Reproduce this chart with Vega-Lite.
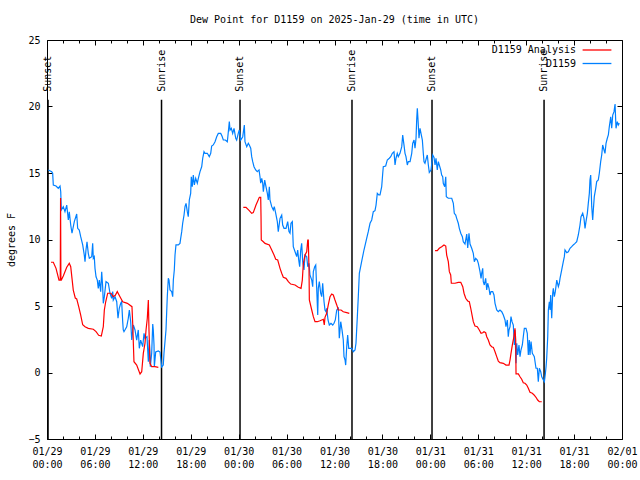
{
  "$schema": "https://vega.github.io/schema/vega-lite/v6.json",
  "width": 575,
  "height": 399,
  "autosize": "none",
  "padding": {"left": 47, "top": 40, "right": 18, "bottom": 41},
  "title": {"text": "Dew Point for D1159 on 2025-Jan-29 (time in UTC)", "font": "DejaVu Sans Mono", "fontSize": 10, "fontWeight": "normal", "color": "black", "offset": 10},
  "config": {
    "font": "DejaVu Sans Mono",
    "view": {"stroke": "black", "strokeWidth": 1},
    "axis": {"domain": false, "grid": false, "tickColor": "black", "labelColor": "black", "labelFont": "DejaVu Sans Mono", "labelFontSize": 10, "titleFont": "DejaVu Sans Mono", "titleFontSize": 10, "titleFontWeight": "normal", "titleColor": "black"}
  },
  "datasets": {
    "sun": [
      {"event": "Sunset", "h": 0.13},
      {"event": "Sunrise", "h": 14.34},
      {"event": "Sunset", "h": 24.17},
      {"event": "Sunrise", "h": 38.19},
      {"event": "Sunset", "h": 48.21},
      {"event": "Sunrise", "h": 62.24}
    ],
    "dew": [
      {"series":"D1159","seg":"b","h":0.16,"v":15.23},{"series":"D1159","seg":"b","h":0.59,"v":15.10},{"series":"D1159","seg":"b","h":0.71,"v":14.98},{"series":"D1159","seg":"b","h":0.79,"v":14.10},{"series":"D1159","seg":"b","h":1.13,"v":14.02},{"series":"D1159","seg":"b","h":1.41,"v":13.85},{"series":"D1159","seg":"b","h":1.63,"v":14.02},{"series":"D1159","seg":"b","h":1.72,"v":13.59},{"series":"D1159","seg":"b","h":1.79,"v":12.22},{"series":"D1159","seg":"b","h":2.04,"v":12.47},{"series":"D1159","seg":"b","h":2.25,"v":12.09},{"series":"D1159","seg":"b","h":2.47,"v":12.59},{"series":"D1159","seg":"b","h":2.67,"v":11.47},{"series":"D1159","seg":"b","h":2.79,"v":12.09},{"series":"D1159","seg":"b","h":2.97,"v":11.09},{"series":"D1159","seg":"b","h":3.13,"v":10.47},{"series":"D1159","seg":"b","h":3.42,"v":11.34},{"series":"D1159","seg":"b","h":3.72,"v":11.92},{"series":"D1159","seg":"b","h":3.84,"v":10.84},{"series":"D1159","seg":"b","h":4.04,"v":10.71},{"series":"D1159","seg":"b","h":4.22,"v":10.21},{"series":"D1159","seg":"b","h":4.47,"v":9.59},{"series":"D1159","seg":"b","h":4.67,"v":8.83},{"series":"D1159","seg":"b","h":4.76,"v":8.33},{"series":"D1159","seg":"b","h":4.88,"v":9.21},{"series":"D1159","seg":"b","h":5.01,"v":9.83},{"series":"D1159","seg":"b","h":5.17,"v":8.96},{"series":"D1159","seg":"b","h":5.30,"v":8.59},{"series":"D1159","seg":"b","h":5.60,"v":8.71},{"series":"D1159","seg":"b","h":5.72,"v":9.71},{"series":"D1159","seg":"b","h":5.80,"v":8.59},{"series":"D1159","seg":"b","h":5.92,"v":8.71},{"series":"D1159","seg":"b","h":6.01,"v":7.83},{"series":"D1159","seg":"b","h":6.14,"v":7.20},{"series":"D1159","seg":"b","h":6.30,"v":6.95},{"series":"D1159","seg":"b","h":6.42,"v":6.33},{"series":"D1159","seg":"b","h":6.55,"v":6.95},{"series":"D1159","seg":"b","h":6.72,"v":6.08},{"series":"D1159","seg":"b","h":6.85,"v":7.58},{"series":"D1159","seg":"b","h":6.97,"v":6.45},{"series":"D1159","seg":"b","h":7.05,"v":5.20},{"series":"D1159","seg":"b","h":7.18,"v":5.70},{"series":"D1159","seg":"b","h":7.39,"v":6.83},{"series":"D1159","seg":"b","h":7.68,"v":6.71},{"series":"D1159","seg":"b","h":7.89,"v":5.96},{"series":"D1159","seg":"b","h":8.10,"v":5.58},{"series":"D1159","seg":"b","h":8.23,"v":6.08},{"series":"D1159","seg":"b","h":8.30,"v":5.45},{"series":"D1159","seg":"b","h":8.52,"v":5.70},{"series":"D1159","seg":"b","h":8.73,"v":5.32},{"series":"D1159","seg":"b","h":8.89,"v":4.08},{"series":"D1159","seg":"b","h":9.05,"v":4.83},{"series":"D1159","seg":"b","h":9.23,"v":5.20},{"series":"D1159","seg":"b","h":9.35,"v":5.32},{"series":"D1159","seg":"b","h":9.48,"v":3.82},{"series":"D1159","seg":"b","h":9.55,"v":3.20},{"series":"D1159","seg":"b","h":9.64,"v":3.07},{"series":"D1159","seg":"b","h":9.98,"v":3.44},{"series":"D1159","seg":"b","h":10.18,"v":4.08},{"series":"D1159","seg":"b","h":10.31,"v":4.70},{"series":"D1159","seg":"b","h":10.48,"v":3.82},{"series":"D1159","seg":"b","h":10.61,"v":2.44},{"series":"D1159","seg":"b","h":10.81,"v":3.57},{"series":"D1159","seg":"b","h":11.02,"v":3.20},{"series":"D1159","seg":"b","h":11.23,"v":2.44},{"series":"D1159","seg":"b","h":11.43,"v":3.20},{"series":"D1159","seg":"b","h":11.56,"v":1.82},{"series":"D1159","seg":"b","h":11.73,"v":2.44},{"series":"D1159","seg":"b","h":11.98,"v":1.94},{"series":"D1159","seg":"b","h":12.15,"v":2.95},{"series":"D1159","seg":"b","h":12.27,"v":2.57},{"series":"D1159","seg":"b","h":12.52,"v":2.69},{"series":"D1159","seg":"b","h":12.69,"v":0.81},{"series":"D1159","seg":"b","h":12.81,"v":2.44},{"series":"D1159","seg":"b","h":12.94,"v":0.44},{"series":"D1159","seg":"b","h":13.11,"v":1.47},{"series":"D1159","seg":"b","h":13.24,"v":3.65},{"series":"D1159","seg":"b","h":13.31,"v":3.20},{"series":"D1159","seg":"b","h":13.40,"v":2.07},{"series":"D1159","seg":"b","h":13.44,"v":0.44},{"series":"D1159","seg":"b","h":13.61,"v":1.54},{"series":"D1159","seg":"b","h":13.94,"v":1.62},{"series":"D1159","seg":"b","h":14.15,"v":1.54},{"series":"D1159","seg":"b","h":14.36,"v":0.41},{"series":"D1159","seg":"b","h":14.56,"v":0.56},{"series":"D1159","seg":"b","h":14.65,"v":1.47},{"series":"D1159","seg":"b","h":14.90,"v":3.20},{"series":"D1159","seg":"b","h":15.06,"v":5.68},{"series":"D1159","seg":"b","h":15.19,"v":7.08},{"series":"D1159","seg":"b","h":15.28,"v":6.95},{"series":"D1159","seg":"b","h":15.40,"v":6.20},{"series":"D1159","seg":"b","h":15.61,"v":6.08},{"series":"D1159","seg":"b","h":15.74,"v":5.70},{"series":"D1159","seg":"b","h":15.82,"v":6.95},{"series":"D1159","seg":"b","h":15.94,"v":7.71},{"series":"D1159","seg":"b","h":16.03,"v":8.83},{"series":"D1159","seg":"b","h":16.15,"v":9.59},{"series":"D1159","seg":"b","h":16.44,"v":9.59},{"series":"D1159","seg":"b","h":16.65,"v":9.71},{"series":"D1159","seg":"b","h":16.74,"v":10.09},{"series":"D1159","seg":"b","h":16.87,"v":10.59},{"series":"D1159","seg":"b","h":16.99,"v":11.22},{"series":"D1159","seg":"b","h":17.16,"v":11.84},{"series":"D1159","seg":"b","h":17.28,"v":12.47},{"series":"D1159","seg":"b","h":17.41,"v":12.72},{"series":"D1159","seg":"b","h":17.57,"v":12.09},{"series":"D1159","seg":"b","h":17.69,"v":11.71},{"series":"D1159","seg":"b","h":17.82,"v":12.97},{"series":"D1159","seg":"b","h":17.99,"v":13.47},{"series":"D1159","seg":"b","h":18.07,"v":14.72},{"series":"D1159","seg":"b","h":18.19,"v":13.97},{"series":"D1159","seg":"b","h":18.32,"v":14.85},{"series":"D1159","seg":"b","h":18.45,"v":14.10},{"series":"D1159","seg":"b","h":18.62,"v":14.60},{"series":"D1159","seg":"b","h":18.82,"v":14.23},{"series":"D1159","seg":"b","h":18.95,"v":14.60},{"series":"D1159","seg":"b","h":19.16,"v":15.10},{"series":"D1159","seg":"b","h":19.37,"v":15.47},{"series":"D1159","seg":"b","h":19.50,"v":16.11},{"series":"D1159","seg":"b","h":19.66,"v":16.60},{"series":"D1159","seg":"b","h":19.78,"v":16.48},{"series":"D1159","seg":"b","h":20.07,"v":16.48},{"series":"D1159","seg":"b","h":20.32,"v":16.23},{"series":"D1159","seg":"b","h":20.50,"v":16.48},{"series":"D1159","seg":"b","h":20.62,"v":17.03},{"series":"D1159","seg":"b","h":20.82,"v":17.11},{"series":"D1159","seg":"b","h":21.04,"v":17.35},{"series":"D1159","seg":"b","h":21.25,"v":17.73},{"series":"D1159","seg":"b","h":21.45,"v":17.98},{"series":"D1159","seg":"b","h":21.75,"v":17.98},{"series":"D1159","seg":"b","h":21.91,"v":17.78},{"series":"D1159","seg":"b","h":22.08,"v":17.48},{"series":"D1159","seg":"b","h":22.33,"v":17.48},{"series":"D1159","seg":"b","h":22.58,"v":17.35},{"series":"D1159","seg":"b","h":22.75,"v":18.36},{"series":"D1159","seg":"b","h":22.83,"v":18.86},{"series":"D1159","seg":"b","h":22.92,"v":18.23},{"series":"D1159","seg":"b","h":23.08,"v":18.36},{"series":"D1159","seg":"b","h":23.25,"v":17.98},{"series":"D1159","seg":"b","h":23.42,"v":18.36},{"series":"D1159","seg":"b","h":23.63,"v":17.61},{"series":"D1159","seg":"b","h":23.75,"v":17.48},{"series":"D1159","seg":"b","h":23.95,"v":17.98},{"series":"D1159","seg":"b","h":24.08,"v":18.23},{"series":"D1159","seg":"b","h":24.26,"v":17.48},{"series":"D1159","seg":"b","h":24.51,"v":17.73},{"series":"D1159","seg":"b","h":24.71,"v":18.61},{"series":"D1159","seg":"b","h":24.79,"v":17.35},{"series":"D1159","seg":"b","h":25.01,"v":16.98},{"series":"D1159","seg":"b","h":25.21,"v":17.23},{"series":"D1159","seg":"b","h":25.33,"v":17.11},{"series":"D1159","seg":"b","h":25.51,"v":16.86},{"series":"D1159","seg":"b","h":25.63,"v":16.23},{"series":"D1159","seg":"b","h":25.76,"v":15.85},{"series":"D1159","seg":"b","h":25.92,"v":15.47},{"series":"D1159","seg":"b","h":26.13,"v":15.23},{"series":"D1159","seg":"b","h":26.33,"v":15.10},{"series":"D1159","seg":"b","h":26.55,"v":15.23},{"series":"D1159","seg":"b","h":26.67,"v":14.72},{"series":"D1159","seg":"b","h":26.76,"v":14.23},{"series":"D1159","seg":"b","h":26.89,"v":14.60},{"series":"D1159","seg":"b","h":27.01,"v":14.23},{"series":"D1159","seg":"b","h":27.09,"v":13.59},{"series":"D1159","seg":"b","h":27.26,"v":14.47},{"series":"D1159","seg":"b","h":27.42,"v":13.97},{"series":"D1159","seg":"b","h":27.59,"v":13.47},{"series":"D1159","seg":"b","h":27.71,"v":12.97},{"series":"D1159","seg":"b","h":27.84,"v":13.97},{"series":"D1159","seg":"b","h":27.92,"v":12.97},{"series":"D1159","seg":"b","h":28.14,"v":12.47},{"series":"D1159","seg":"b","h":28.34,"v":12.22},{"series":"D1159","seg":"b","h":28.46,"v":12.47},{"series":"D1159","seg":"b","h":28.64,"v":11.97},{"series":"D1159","seg":"b","h":28.84,"v":11.34},{"series":"D1159","seg":"b","h":28.96,"v":10.59},{"series":"D1159","seg":"b","h":29.18,"v":11.59},{"series":"D1159","seg":"b","h":29.39,"v":11.84},{"series":"D1159","seg":"b","h":29.51,"v":11.09},{"series":"D1159","seg":"b","h":29.68,"v":10.84},{"series":"D1159","seg":"b","h":29.93,"v":10.84},{"series":"D1159","seg":"b","h":30.14,"v":11.34},{"series":"D1159","seg":"b","h":30.30,"v":10.59},{"series":"D1159","seg":"b","h":30.43,"v":10.47},{"series":"D1159","seg":"b","h":30.55,"v":11.22},{"series":"D1159","seg":"b","h":30.72,"v":11.34},{"series":"D1159","seg":"b","h":30.84,"v":9.46},{"series":"D1159","seg":"b","h":31.06,"v":9.08},{"series":"D1159","seg":"b","h":31.27,"v":8.71},{"series":"D1159","seg":"b","h":31.39,"v":9.21},{"series":"D1159","seg":"b","h":31.52,"v":8.46},{"series":"D1159","seg":"b","h":31.64,"v":7.95},{"series":"D1159","seg":"b","h":31.77,"v":9.21},{"series":"D1159","seg":"b","h":31.89,"v":9.71},{"series":"D1159","seg":"b","h":32.02,"v":8.33},{"series":"D1159","seg":"b","h":32.18,"v":7.71},{"series":"D1159","seg":"b","h":32.31,"v":8.83},{"series":"D1159","seg":"b","h":32.52,"v":8.71},{"series":"D1159","seg":"b","h":32.65,"v":7.95},{"series":"D1159","seg":"b","h":32.81,"v":8.21},{"series":"D1159","seg":"b","h":32.93,"v":7.33},{"series":"D1159","seg":"b","h":33.15,"v":6.95},{"series":"D1159","seg":"b","h":33.27,"v":6.45},{"series":"D1159","seg":"b","h":33.35,"v":7.58},{"series":"D1159","seg":"b","h":33.52,"v":7.95},{"series":"D1159","seg":"b","h":33.65,"v":8.08},{"series":"D1159","seg":"b","h":33.77,"v":6.33},{"series":"D1159","seg":"b","h":33.90,"v":4.32},{"series":"D1159","seg":"b","h":33.97,"v":6.33},{"series":"D1159","seg":"b","h":34.10,"v":6.83},{"series":"D1159","seg":"b","h":34.27,"v":5.96},{"series":"D1159","seg":"b","h":34.40,"v":5.70},{"series":"D1159","seg":"b","h":34.52,"v":6.71},{"series":"D1159","seg":"b","h":34.69,"v":5.32},{"series":"D1159","seg":"b","h":34.81,"v":4.70},{"series":"D1159","seg":"b","h":34.94,"v":4.57},{"series":"D1159","seg":"b","h":35.02,"v":4.83},{"series":"D1159","seg":"b","h":35.19,"v":3.95},{"series":"D1159","seg":"b","h":35.35,"v":3.57},{"series":"D1159","seg":"b","h":35.56,"v":3.70},{"series":"D1159","seg":"b","h":35.78,"v":3.57},{"series":"D1159","seg":"b","h":35.94,"v":3.70},{"series":"D1159","seg":"b","h":36.10,"v":3.95},{"series":"D1159","seg":"b","h":36.28,"v":4.70},{"series":"D1159","seg":"b","h":36.48,"v":4.83},{"series":"D1159","seg":"b","h":36.60,"v":2.57},{"series":"D1159","seg":"b","h":36.78,"v":3.82},{"series":"D1159","seg":"b","h":36.94,"v":3.20},{"series":"D1159","seg":"b","h":37.10,"v":2.44},{"series":"D1159","seg":"b","h":37.19,"v":1.19},{"series":"D1159","seg":"b","h":37.32,"v":0.94},{"series":"D1159","seg":"b","h":37.40,"v":0.56},{"series":"D1159","seg":"b","h":37.53,"v":1.94},{"series":"D1159","seg":"b","h":37.65,"v":2.82},{"series":"D1159","seg":"b","h":37.78,"v":1.82},{"series":"D1159","seg":"b","h":38.03,"v":1.82},{"series":"D1159","seg":"b","h":38.16,"v":1.82},{"series":"D1159","seg":"b","h":38.36,"v":1.56},{"series":"D1159","seg":"b","h":38.57,"v":1.69},{"series":"D1159","seg":"b","h":38.69,"v":2.20},{"series":"D1159","seg":"b","h":38.86,"v":4.20},{"series":"D1159","seg":"b","h":38.98,"v":5.70},{"series":"D1159","seg":"b","h":39.11,"v":7.46},{"series":"D1159","seg":"b","h":39.44,"v":8.46},{"series":"D1159","seg":"b","h":39.69,"v":9.21},{"series":"D1159","seg":"b","h":40.03,"v":10.09},{"series":"D1159","seg":"b","h":40.23,"v":10.59},{"series":"D1159","seg":"b","h":40.45,"v":11.22},{"series":"D1159","seg":"b","h":40.66,"v":11.47},{"series":"D1159","seg":"b","h":40.86,"v":12.09},{"series":"D1159","seg":"b","h":41.07,"v":12.17},{"series":"D1159","seg":"b","h":41.20,"v":12.59},{"series":"D1159","seg":"b","h":41.36,"v":13.47},{"series":"D1159","seg":"b","h":41.54,"v":13.35},{"series":"D1159","seg":"b","h":41.70,"v":13.35},{"series":"D1159","seg":"b","h":41.91,"v":13.97},{"series":"D1159","seg":"b","h":42.04,"v":14.98},{"series":"D1159","seg":"b","h":42.11,"v":15.47},{"series":"D1159","seg":"b","h":42.41,"v":15.53},{"series":"D1159","seg":"b","h":42.61,"v":15.98},{"series":"D1159","seg":"b","h":42.86,"v":16.11},{"series":"D1159","seg":"b","h":43.04,"v":16.23},{"series":"D1159","seg":"b","h":43.24,"v":16.48},{"series":"D1159","seg":"b","h":43.45,"v":16.60},{"series":"D1159","seg":"b","h":43.58,"v":15.60},{"series":"D1159","seg":"b","h":43.70,"v":16.11},{"series":"D1159","seg":"b","h":43.86,"v":16.48},{"series":"D1159","seg":"b","h":43.99,"v":16.23},{"series":"D1159","seg":"b","h":44.20,"v":16.48},{"series":"D1159","seg":"b","h":44.42,"v":16.98},{"series":"D1159","seg":"b","h":44.54,"v":17.86},{"series":"D1159","seg":"b","h":44.70,"v":17.11},{"series":"D1159","seg":"b","h":44.83,"v":16.48},{"series":"D1159","seg":"b","h":44.95,"v":16.23},{"series":"D1159","seg":"b","h":45.12,"v":15.60},{"series":"D1159","seg":"b","h":45.24,"v":15.85},{"series":"D1159","seg":"b","h":45.46,"v":15.85},{"series":"D1159","seg":"b","h":45.67,"v":16.48},{"series":"D1159","seg":"b","h":45.79,"v":17.23},{"series":"D1159","seg":"b","h":45.96,"v":17.48},{"series":"D1159","seg":"b","h":46.08,"v":16.86},{"series":"D1159","seg":"b","h":46.21,"v":17.61},{"series":"D1159","seg":"b","h":46.29,"v":18.98},{"series":"D1159","seg":"b","h":46.37,"v":19.86},{"series":"D1159","seg":"b","h":46.46,"v":18.98},{"series":"D1159","seg":"b","h":46.58,"v":17.61},{"series":"D1159","seg":"b","h":46.71,"v":18.36},{"series":"D1159","seg":"b","h":46.83,"v":17.98},{"series":"D1159","seg":"b","h":47.00,"v":17.48},{"series":"D1159","seg":"b","h":47.12,"v":16.48},{"series":"D1159","seg":"b","h":47.21,"v":15.85},{"series":"D1159","seg":"b","h":47.33,"v":15.73},{"series":"D1159","seg":"b","h":47.50,"v":16.11},{"series":"D1159","seg":"b","h":47.62,"v":16.35},{"series":"D1159","seg":"b","h":47.75,"v":15.60},{"series":"D1159","seg":"b","h":47.87,"v":15.04},{"series":"D1159","seg":"b","h":48.09,"v":15.23},{"series":"D1159","seg":"b","h":48.30,"v":16.35},{"series":"D1159","seg":"b","h":48.46,"v":16.17},{"series":"D1159","seg":"b","h":48.59,"v":15.60},{"series":"D1159","seg":"b","h":48.71,"v":16.11},{"series":"D1159","seg":"b","h":48.87,"v":15.23},{"series":"D1159","seg":"b","h":49.00,"v":15.85},{"series":"D1159","seg":"b","h":49.12,"v":15.60},{"series":"D1159","seg":"b","h":49.30,"v":15.23},{"series":"D1159","seg":"b","h":49.42,"v":14.85},{"series":"D1159","seg":"b","h":49.55,"v":14.72},{"series":"D1159","seg":"b","h":49.62,"v":14.23},{"series":"D1159","seg":"b","h":49.80,"v":13.97},{"series":"D1159","seg":"b","h":49.93,"v":14.72},{"series":"D1159","seg":"b","h":50.00,"v":13.22},{"series":"D1159","seg":"b","h":50.25,"v":13.10},{"series":"D1159","seg":"b","h":50.68,"v":13.10},{"series":"D1159","seg":"b","h":50.88,"v":12.72},{"series":"D1159","seg":"b","h":51.00,"v":11.97},{"series":"D1159","seg":"b","h":51.18,"v":11.84},{"series":"D1159","seg":"b","h":51.30,"v":11.59},{"series":"D1159","seg":"b","h":51.50,"v":11.22},{"series":"D1159","seg":"b","h":51.63,"v":10.84},{"series":"D1159","seg":"b","h":51.81,"v":10.47},{"series":"D1159","seg":"b","h":52.01,"v":10.21},{"series":"D1159","seg":"b","h":52.13,"v":9.83},{"series":"D1159","seg":"b","h":52.34,"v":9.66},{"series":"D1159","seg":"b","h":52.56,"v":10.41},{"series":"D1159","seg":"b","h":52.68,"v":9.36},{"series":"D1159","seg":"b","h":52.84,"v":10.47},{"series":"D1159","seg":"b","h":52.97,"v":9.66},{"series":"D1159","seg":"b","h":53.18,"v":9.34},{"series":"D1159","seg":"b","h":53.38,"v":8.96},{"series":"D1159","seg":"b","h":53.51,"v":8.33},{"series":"D1159","seg":"b","h":53.68,"v":8.59},{"series":"D1159","seg":"b","h":53.88,"v":8.46},{"series":"D1159","seg":"b","h":54.01,"v":8.21},{"series":"D1159","seg":"b","h":54.22,"v":7.58},{"series":"D1159","seg":"b","h":54.35,"v":7.08},{"series":"D1159","seg":"b","h":54.43,"v":7.46},{"series":"D1159","seg":"b","h":54.56,"v":7.83},{"series":"D1159","seg":"b","h":54.63,"v":6.83},{"series":"D1159","seg":"b","h":54.76,"v":6.58},{"series":"D1159","seg":"b","h":54.93,"v":7.08},{"series":"D1159","seg":"b","h":55.06,"v":6.20},{"series":"D1159","seg":"b","h":55.18,"v":6.71},{"series":"D1159","seg":"b","h":55.35,"v":6.33},{"series":"D1159","seg":"b","h":55.47,"v":5.83},{"series":"D1159","seg":"b","h":55.60,"v":6.08},{"series":"D1159","seg":"b","h":55.81,"v":6.08},{"series":"D1159","seg":"b","h":55.97,"v":5.83},{"series":"D1159","seg":"b","h":56.10,"v":5.20},{"series":"D1159","seg":"b","h":56.31,"v":4.70},{"series":"D1159","seg":"b","h":56.51,"v":4.57},{"series":"D1159","seg":"b","h":56.72,"v":4.70},{"series":"D1159","seg":"b","h":56.94,"v":4.57},{"series":"D1159","seg":"b","h":57.14,"v":4.32},{"series":"D1159","seg":"b","h":57.35,"v":3.95},{"series":"D1159","seg":"b","h":57.47,"v":3.44},{"series":"D1159","seg":"b","h":57.64,"v":3.95},{"series":"D1159","seg":"b","h":57.76,"v":2.69},{"series":"D1159","seg":"b","h":57.85,"v":3.20},{"series":"D1159","seg":"b","h":57.98,"v":3.44},{"series":"D1159","seg":"b","h":58.10,"v":4.20},{"series":"D1159","seg":"b","h":58.23,"v":3.82},{"series":"D1159","seg":"b","h":58.39,"v":3.57},{"series":"D1159","seg":"b","h":58.52,"v":2.07},{"series":"D1159","seg":"b","h":58.60,"v":3.20},{"series":"D1159","seg":"b","h":58.73,"v":0.69},{"series":"D1159","seg":"b","h":58.82,"v":2.20},{"series":"D1159","seg":"b","h":58.94,"v":1.32},{"series":"D1159","seg":"b","h":59.10,"v":2.07},{"series":"D1159","seg":"b","h":59.23,"v":1.19},{"series":"D1159","seg":"b","h":59.35,"v":1.69},{"series":"D1159","seg":"b","h":59.52,"v":2.07},{"series":"D1159","seg":"b","h":59.64,"v":2.69},{"series":"D1159","seg":"b","h":59.77,"v":3.32},{"series":"D1159","seg":"b","h":59.98,"v":3.32},{"series":"D1159","seg":"b","h":60.14,"v":2.95},{"series":"D1159","seg":"b","h":60.27,"v":1.32},{"series":"D1159","seg":"b","h":60.39,"v":2.44},{"series":"D1159","seg":"b","h":60.48,"v":1.32},{"series":"D1159","seg":"b","h":60.61,"v":2.32},{"series":"D1159","seg":"b","h":60.77,"v":1.44},{"series":"D1159","seg":"b","h":60.90,"v":1.32},{"series":"D1159","seg":"b","h":61.02,"v":1.19},{"series":"D1159","seg":"b","h":61.23,"v":0.32},{"series":"D1159","seg":"b","h":61.40,"v":0.32},{"series":"D1159","seg":"b","h":61.52,"v":-0.69},{"series":"D1159","seg":"b","h":61.65,"v":0.32},{"series":"D1159","seg":"b","h":61.82,"v":0.06},{"series":"D1159","seg":"b","h":61.95,"v":-0.32},{"series":"D1159","seg":"b","h":62.15,"v":-0.56},{"series":"D1159","seg":"b","h":62.28,"v":-0.69},{"series":"D1159","seg":"b","h":62.40,"v":-0.11},{"series":"D1159","seg":"b","h":62.49,"v":0.44},{"series":"D1159","seg":"b","h":62.57,"v":1.07},{"series":"D1159","seg":"b","h":62.70,"v":2.69},{"series":"D1159","seg":"b","h":62.78,"v":4.70},{"series":"D1159","seg":"b","h":62.90,"v":5.32},{"series":"D1159","seg":"b","h":62.99,"v":4.70},{"series":"D1159","seg":"b","h":63.07,"v":5.83},{"series":"D1159","seg":"b","h":63.20,"v":4.08},{"series":"D1159","seg":"b","h":63.32,"v":5.96},{"series":"D1159","seg":"b","h":63.40,"v":6.33},{"series":"D1159","seg":"b","h":63.53,"v":5.70},{"series":"D1159","seg":"b","h":63.65,"v":6.08},{"series":"D1159","seg":"b","h":63.83,"v":6.95},{"series":"D1159","seg":"b","h":64.03,"v":6.45},{"series":"D1159","seg":"b","h":64.15,"v":6.71},{"series":"D1159","seg":"b","h":64.24,"v":7.08},{"series":"D1159","seg":"b","h":64.45,"v":7.71},{"series":"D1159","seg":"b","h":64.65,"v":8.33},{"series":"D1159","seg":"b","h":64.78,"v":8.71},{"series":"D1159","seg":"b","h":64.86,"v":9.21},{"series":"D1159","seg":"b","h":65.08,"v":9.01},{"series":"D1159","seg":"b","h":65.28,"v":9.08},{"series":"D1159","seg":"b","h":65.49,"v":9.34},{"series":"D1159","seg":"b","h":65.70,"v":9.46},{"series":"D1159","seg":"b","h":65.90,"v":9.59},{"series":"D1159","seg":"b","h":66.12,"v":9.71},{"series":"D1159","seg":"b","h":66.33,"v":9.83},{"series":"D1159","seg":"b","h":66.53,"v":10.34},{"series":"D1159","seg":"b","h":66.74,"v":11.09},{"series":"D1159","seg":"b","h":66.87,"v":11.71},{"series":"D1159","seg":"b","h":67.08,"v":11.97},{"series":"D1159","seg":"b","h":67.24,"v":11.59},{"series":"D1159","seg":"b","h":67.37,"v":10.84},{"series":"D1159","seg":"b","h":67.49,"v":11.34},{"series":"D1159","seg":"b","h":67.66,"v":11.97},{"series":"D1159","seg":"b","h":67.78,"v":12.72},{"series":"D1159","seg":"b","h":67.91,"v":13.47},{"series":"D1159","seg":"b","h":67.99,"v":14.47},{"series":"D1159","seg":"b","h":68.08,"v":14.85},{"series":"D1159","seg":"b","h":68.21,"v":12.47},{"series":"D1159","seg":"b","h":68.33,"v":11.47},{"series":"D1159","seg":"b","h":68.41,"v":12.22},{"series":"D1159","seg":"b","h":68.53,"v":13.22},{"series":"D1159","seg":"b","h":68.71,"v":13.85},{"series":"D1159","seg":"b","h":68.83,"v":14.35},{"series":"D1159","seg":"b","h":69.03,"v":14.47},{"series":"D1159","seg":"b","h":69.16,"v":14.98},{"series":"D1159","seg":"b","h":69.33,"v":15.85},{"series":"D1159","seg":"b","h":69.46,"v":16.35},{"series":"D1159","seg":"b","h":69.58,"v":17.11},{"series":"D1159","seg":"b","h":69.75,"v":16.73},{"series":"D1159","seg":"b","h":69.87,"v":16.48},{"series":"D1159","seg":"b","h":70.00,"v":17.23},{"series":"D1159","seg":"b","h":70.16,"v":17.61},{"series":"D1159","seg":"b","h":70.29,"v":17.86},{"series":"D1159","seg":"b","h":70.41,"v":18.48},{"series":"D1159","seg":"b","h":70.59,"v":19.23},{"series":"D1159","seg":"b","h":70.71,"v":18.36},{"series":"D1159","seg":"b","h":70.84,"v":19.36},{"series":"D1159","seg":"b","h":71.00,"v":19.61},{"series":"D1159","seg":"b","h":71.13,"v":20.19},{"series":"D1159","seg":"b","h":71.25,"v":18.36},{"series":"D1159","seg":"b","h":71.41,"v":18.86},{"series":"D1159","seg":"b","h":71.54,"v":18.61},{"series":"D1159","seg":"b","h":71.67,"v":18.74},
      {"series":"D1159 Analysis","seg":"r1","h":0.50,"v":8.29},{"series":"D1159 Analysis","seg":"r1","h":0.79,"v":8.29},{"series":"D1159 Analysis","seg":"r1","h":1.13,"v":7.83},{"series":"D1159 Analysis","seg":"r1","h":1.50,"v":6.95},{"series":"D1159 Analysis","seg":"r1","h":1.66,"v":6.95},{"series":"D1159 Analysis","seg":"r1","h":1.70,"v":13.12},{"series":"D1159 Analysis","seg":"r1","h":1.74,"v":6.95},{"series":"D1159 Analysis","seg":"r1","h":1.79,"v":6.95},{"series":"D1159 Analysis","seg":"r1","h":2.04,"v":7.26},{"series":"D1159 Analysis","seg":"r1","h":2.47,"v":7.91},{"series":"D1159 Analysis","seg":"r1","h":2.79,"v":8.21},{"series":"D1159 Analysis","seg":"r1","h":2.97,"v":7.95},{"series":"D1159 Analysis","seg":"r1","h":3.13,"v":7.08},{"series":"D1159 Analysis","seg":"r1","h":3.29,"v":6.20},{"series":"D1159 Analysis","seg":"r1","h":3.54,"v":5.60},{"series":"D1159 Analysis","seg":"r1","h":3.72,"v":5.53},{"series":"D1159 Analysis","seg":"r1","h":3.97,"v":4.95},{"series":"D1159 Analysis","seg":"r1","h":4.22,"v":4.32},{"series":"D1159 Analysis","seg":"r1","h":4.47,"v":3.59},{"series":"D1159 Analysis","seg":"r1","h":4.76,"v":3.44},{"series":"D1159 Analysis","seg":"r1","h":5.17,"v":3.32},{"series":"D1159 Analysis","seg":"r1","h":5.80,"v":3.25},{"series":"D1159 Analysis","seg":"r1","h":6.14,"v":3.07},{"series":"D1159 Analysis","seg":"r1","h":6.47,"v":2.80},{"series":"D1159 Analysis","seg":"r1","h":6.80,"v":2.74},{"series":"D1159 Analysis","seg":"r1","h":7.05,"v":3.44},{"series":"D1159 Analysis","seg":"r1","h":7.18,"v":4.70},{"series":"D1159 Analysis","seg":"r1","h":7.35,"v":5.32},{"series":"D1159 Analysis","seg":"r1","h":7.60,"v":5.96},{"series":"D1159 Analysis","seg":"r1","h":8.01,"v":5.96},{"series":"D1159 Analysis","seg":"r1","h":8.30,"v":5.70},{"series":"D1159 Analysis","seg":"r1","h":8.55,"v":5.80},{"series":"D1159 Analysis","seg":"r1","h":8.80,"v":6.08},{"series":"D1159 Analysis","seg":"r1","h":9.14,"v":5.70},{"series":"D1159 Analysis","seg":"r1","h":9.48,"v":5.32},{"series":"D1159 Analysis","seg":"r1","h":10.06,"v":5.20},{"series":"D1159 Analysis","seg":"r1","h":10.64,"v":4.95},{"series":"D1159 Analysis","seg":"r1","h":10.73,"v":3.70},{"series":"D1159 Analysis","seg":"r1","h":10.89,"v":0.81},{"series":"D1159 Analysis","seg":"r1","h":11.23,"v":0.56},{"series":"D1159 Analysis","seg":"r1","h":11.65,"v":-0.11},{"series":"D1159 Analysis","seg":"r1","h":11.86,"v":0.06},{"series":"D1159 Analysis","seg":"r1","h":12.06,"v":1.44},{"series":"D1159 Analysis","seg":"r1","h":12.27,"v":2.20},{"series":"D1159 Analysis","seg":"r1","h":12.40,"v":3.20},{"series":"D1159 Analysis","seg":"r1","h":12.56,"v":4.08},{"series":"D1159 Analysis","seg":"r1","h":12.69,"v":5.45},{"series":"D1159 Analysis","seg":"r1","h":12.77,"v":3.20},{"series":"D1159 Analysis","seg":"r1","h":12.90,"v":0.69},{"series":"D1159 Analysis","seg":"r1","h":13.11,"v":0.44},{"series":"D1159 Analysis","seg":"r1","h":13.52,"v":0.44},{"series":"D1159 Analysis","seg":"r1","h":13.94,"v":0.39},
      {"series":"D1159 Analysis","seg":"r2","h":24.58,"v":12.42},{"series":"D1159 Analysis","seg":"r2","h":24.92,"v":12.42},{"series":"D1159 Analysis","seg":"r2","h":25.33,"v":12.17},{"series":"D1159 Analysis","seg":"r2","h":25.63,"v":11.97},{"series":"D1159 Analysis","seg":"r2","h":25.83,"v":12.02},{"series":"D1159 Analysis","seg":"r2","h":26.17,"v":12.59},{"series":"D1159 Analysis","seg":"r2","h":26.59,"v":13.17},{"series":"D1159 Analysis","seg":"r2","h":26.76,"v":13.17},{"series":"D1159 Analysis","seg":"r2","h":26.80,"v":11.71},{"series":"D1159 Analysis","seg":"r2","h":26.83,"v":9.96},{"series":"D1159 Analysis","seg":"r2","h":27.09,"v":9.83},{"series":"D1159 Analysis","seg":"r2","h":27.30,"v":9.71},{"series":"D1159 Analysis","seg":"r2","h":27.84,"v":9.59},{"series":"D1159 Analysis","seg":"r2","h":28.14,"v":9.21},{"series":"D1159 Analysis","seg":"r2","h":28.43,"v":8.83},{"series":"D1159 Analysis","seg":"r2","h":28.64,"v":8.51},{"series":"D1159 Analysis","seg":"r2","h":28.89,"v":8.46},{"series":"D1159 Analysis","seg":"r2","h":29.18,"v":7.83},{"series":"D1159 Analysis","seg":"r2","h":29.39,"v":7.46},{"series":"D1159 Analysis","seg":"r2","h":29.59,"v":7.16},{"series":"D1159 Analysis","seg":"r2","h":29.93,"v":7.08},{"series":"D1159 Analysis","seg":"r2","h":30.22,"v":6.83},{"series":"D1159 Analysis","seg":"r2","h":30.52,"v":6.65},{"series":"D1159 Analysis","seg":"r2","h":31.06,"v":6.58},{"series":"D1159 Analysis","seg":"r2","h":31.47,"v":6.41},{"series":"D1159 Analysis","seg":"r2","h":31.81,"v":6.33},{"series":"D1159 Analysis","seg":"r2","h":31.97,"v":6.95},{"series":"D1159 Analysis","seg":"r2","h":32.10,"v":8.21},{"series":"D1159 Analysis","seg":"r2","h":32.31,"v":8.83},{"series":"D1159 Analysis","seg":"r2","h":32.52,"v":9.08},{"series":"D1159 Analysis","seg":"r2","h":32.65,"v":9.96},{"series":"D1159 Analysis","seg":"r2","h":32.72,"v":9.96},{"series":"D1159 Analysis","seg":"r2","h":32.81,"v":7.71},{"series":"D1159 Analysis","seg":"r2","h":32.85,"v":5.45},{"series":"D1159 Analysis","seg":"r2","h":33.15,"v":4.70},{"series":"D1159 Analysis","seg":"r2","h":33.35,"v":4.20},{"series":"D1159 Analysis","seg":"r2","h":33.56,"v":3.82},{"series":"D1159 Analysis","seg":"r2","h":33.85,"v":3.82},{"series":"D1159 Analysis","seg":"r2","h":34.19,"v":3.89},{"series":"D1159 Analysis","seg":"r2","h":34.60,"v":4.00},{"series":"D1159 Analysis","seg":"r2","h":34.72,"v":3.57},{"series":"D1159 Analysis","seg":"r2","h":34.81,"v":4.15},{"series":"D1159 Analysis","seg":"r2","h":35.02,"v":4.45},{"series":"D1159 Analysis","seg":"r2","h":35.22,"v":5.08},{"series":"D1159 Analysis","seg":"r2","h":35.44,"v":5.70},{"series":"D1159 Analysis","seg":"r2","h":35.65,"v":5.90},{"series":"D1159 Analysis","seg":"r2","h":35.85,"v":5.83},{"series":"D1159 Analysis","seg":"r2","h":36.06,"v":5.45},{"series":"D1159 Analysis","seg":"r2","h":36.28,"v":5.08},{"series":"D1159 Analysis","seg":"r2","h":36.48,"v":4.70},{"series":"D1159 Analysis","seg":"r2","h":36.82,"v":4.70},{"series":"D1159 Analysis","seg":"r2","h":37.10,"v":4.57},{"series":"D1159 Analysis","seg":"r2","h":37.53,"v":4.50},{"series":"D1159 Analysis","seg":"r2","h":37.85,"v":4.45},
      {"series":"D1159 Analysis","seg":"r3","h":48.59,"v":9.16},{"series":"D1159 Analysis","seg":"r3","h":48.87,"v":9.16},{"series":"D1159 Analysis","seg":"r3","h":49.12,"v":9.34},{"series":"D1159 Analysis","seg":"r3","h":49.42,"v":9.46},{"series":"D1159 Analysis","seg":"r3","h":49.71,"v":9.59},{"series":"D1159 Analysis","seg":"r3","h":49.93,"v":9.51},{"series":"D1159 Analysis","seg":"r3","h":50.05,"v":8.83},{"series":"D1159 Analysis","seg":"r3","h":50.25,"v":8.33},{"series":"D1159 Analysis","seg":"r3","h":50.38,"v":7.58},{"series":"D1159 Analysis","seg":"r3","h":50.55,"v":7.33},{"series":"D1159 Analysis","seg":"r3","h":50.63,"v":6.71},{"series":"D1159 Analysis","seg":"r3","h":51.09,"v":6.71},{"series":"D1159 Analysis","seg":"r3","h":51.50,"v":6.78},{"series":"D1159 Analysis","seg":"r3","h":51.81,"v":6.78},{"series":"D1159 Analysis","seg":"r3","h":52.06,"v":6.45},{"series":"D1159 Analysis","seg":"r3","h":52.22,"v":5.96},{"series":"D1159 Analysis","seg":"r3","h":52.43,"v":5.58},{"series":"D1159 Analysis","seg":"r3","h":52.68,"v":5.38},{"series":"D1159 Analysis","seg":"r3","h":52.88,"v":5.32},{"series":"D1159 Analysis","seg":"r3","h":53.06,"v":4.83},{"series":"D1159 Analysis","seg":"r3","h":53.26,"v":4.20},{"series":"D1159 Analysis","seg":"r3","h":53.38,"v":3.82},{"series":"D1159 Analysis","seg":"r3","h":53.59,"v":3.50},{"series":"D1159 Analysis","seg":"r3","h":53.88,"v":3.44},{"series":"D1159 Analysis","seg":"r3","h":54.13,"v":3.20},{"series":"D1159 Analysis","seg":"r3","h":54.35,"v":2.95},{"series":"D1159 Analysis","seg":"r3","h":54.56,"v":2.99},{"series":"D1159 Analysis","seg":"r3","h":54.72,"v":3.07},{"series":"D1159 Analysis","seg":"r3","h":54.93,"v":2.99},{"series":"D1159 Analysis","seg":"r3","h":55.06,"v":2.69},{"series":"D1159 Analysis","seg":"r3","h":55.26,"v":2.44},{"series":"D1159 Analysis","seg":"r3","h":55.47,"v":2.07},{"series":"D1159 Analysis","seg":"r3","h":55.68,"v":1.94},{"series":"D1159 Analysis","seg":"r3","h":55.89,"v":1.89},{"series":"D1159 Analysis","seg":"r3","h":56.10,"v":1.56},{"series":"D1159 Analysis","seg":"r3","h":56.31,"v":1.19},{"series":"D1159 Analysis","seg":"r3","h":56.51,"v":0.86},{"series":"D1159 Analysis","seg":"r3","h":56.72,"v":0.74},{"series":"D1159 Analysis","seg":"r3","h":57.14,"v":0.69},{"series":"D1159 Analysis","seg":"r3","h":57.47,"v":0.56},{"series":"D1159 Analysis","seg":"r3","h":57.85,"v":0.56},{"series":"D1159 Analysis","seg":"r3","h":57.98,"v":0.94},{"series":"D1159 Analysis","seg":"r3","h":58.10,"v":1.44},{"series":"D1159 Analysis","seg":"r3","h":58.27,"v":2.07},{"series":"D1159 Analysis","seg":"r3","h":58.48,"v":2.74},{"series":"D1159 Analysis","seg":"r3","h":58.60,"v":3.32},{"series":"D1159 Analysis","seg":"r3","h":58.69,"v":2.44},{"series":"D1159 Analysis","seg":"r3","h":58.73,"v":-0.11},{"series":"D1159 Analysis","seg":"r3","h":59.02,"v":-0.11},{"series":"D1159 Analysis","seg":"r3","h":59.23,"v":-0.32},{"series":"D1159 Analysis","seg":"r3","h":59.44,"v":-0.51},{"series":"D1159 Analysis","seg":"r3","h":59.64,"v":-0.77},{"series":"D1159 Analysis","seg":"r3","h":59.85,"v":-0.81},{"series":"D1159 Analysis","seg":"r3","h":60.07,"v":-0.94},{"series":"D1159 Analysis","seg":"r3","h":60.27,"v":-1.19},{"series":"D1159 Analysis","seg":"r3","h":60.48,"v":-1.49},{"series":"D1159 Analysis","seg":"r3","h":60.77,"v":-1.56},{"series":"D1159 Analysis","seg":"r3","h":60.99,"v":-1.69},{"series":"D1159 Analysis","seg":"r3","h":61.23,"v":-1.86},{"series":"D1159 Analysis","seg":"r3","h":61.44,"v":-2.07},{"series":"D1159 Analysis","seg":"r3","h":61.65,"v":-2.20},{"series":"D1159 Analysis","seg":"r3","h":61.95,"v":-2.20}
    ]
  },
  "layer": [
    {
      "data": {"name": "sun"},
      "mark": {"type": "rule", "color": "black", "strokeWidth": 1.5},
      "encoding": {
        "x": {"field": "h", "type": "quantitative", "scale": {"domain": [0, 72], "nice": false, "zero": false},
          "axis": {"orient": "bottom", "title": null, "values": [0,2,4,6,8,10,12,14,16,18,20,22,24,26,28,30,32,34,36,38,40,42,44,46,48,50,52,54,56,58,60,62,64,66,68,70,72],
            "tickSize": {"condition": {"test": "datum.value % 6 === 0", "value": -5}, "value": -3},
            "labelExpr": "datum.value % 6 === 0 ? [['01/29','01/29','01/29','01/29','01/30','01/30','01/30','01/30','01/31','01/31','01/31','01/31','02/01'][datum.value/6], ['00:00','06:00','12:00','18:00'][(datum.value/6)%4]] : ''",
            "labelPadding": 12, "labelLineHeight": 13, "labelFlush": false, "labelOverlap": false, "labelBaseline": "top"}},
        "y": {"datum": 20.5, "type": "quantitative", "scale": {"domain": [-5, 25], "nice": false, "zero": false},
          "axis": {"orient": "left", "title": "degrees F", "values": [-5,0,5,10,15,20,25], "tickSize": -5, "labelPadding": 12, "titlePadding": 11, "labelFlush": false, "labelOverlap": false}},
        "y2": {"datum": -5}
      }
    },
    {
      "data": {"name": "sun"},
      "mark": {"type": "text", "angle": 270, "align": "left", "baseline": "middle", "fontSize": 10, "font": "DejaVu Sans Mono", "color": "black", "dx": 0},
      "encoding": {
        "x": {"field": "h", "type": "quantitative", "scale": {"domain": [0, 72], "nice": false, "zero": false},
          "axis": {"orient": "top", "title": null, "labels": false, "values": [0,2,4,6,8,10,12,14,16,18,20,22,24,26,28,30,32,34,36,38,40,42,44,46,48,50,52,54,56,58,60,62,64,66,68,70,72],
            "tickSize": {"condition": {"test": "datum.value % 6 === 0", "value": -5}, "value": -3}}},
        "y": {"datum": 21.1, "type": "quantitative", "scale": {"domain": [-5, 25], "nice": false, "zero": false},
          "axis": {"orient": "right", "title": null, "labels": false, "values": [-5,0,5,10,15,20,25], "tickSize": -5}},
        "text": {"field": "event"}
      }
    },
    {
      "data": {"name": "dew"},
      "mark": {"type": "line", "strokeWidth": 1.2, "interpolate": "linear"},
      "encoding": {
        "x": {"field": "h", "type": "quantitative", "axis": null},
        "y": {"field": "v", "type": "quantitative", "axis": null},
        "detail": {"field": "seg"},
        "color": {"field": "series", "type": "nominal",
          "scale": {"domain": ["D1159 Analysis", "D1159"], "range": ["#ff0000", "#0080ff"]},
          "legend": {"orient": "none", "legendX": 543, "legendY": 3, "title": null, "symbolType": "M-2.4,0H2.4", "symbolSize": 144, "symbolStrokeWidth": 1.3, "labelAlign": "right", "labelOffset": -28, "labelFontSize": 10, "labelFont": "DejaVu Sans Mono", "labelColor": "black", "rowPadding": 1.5, "padding": 0}}
      }
    }
  ],
  "resolve": {"axis": {"x": "independent", "y": "independent"}}
}
